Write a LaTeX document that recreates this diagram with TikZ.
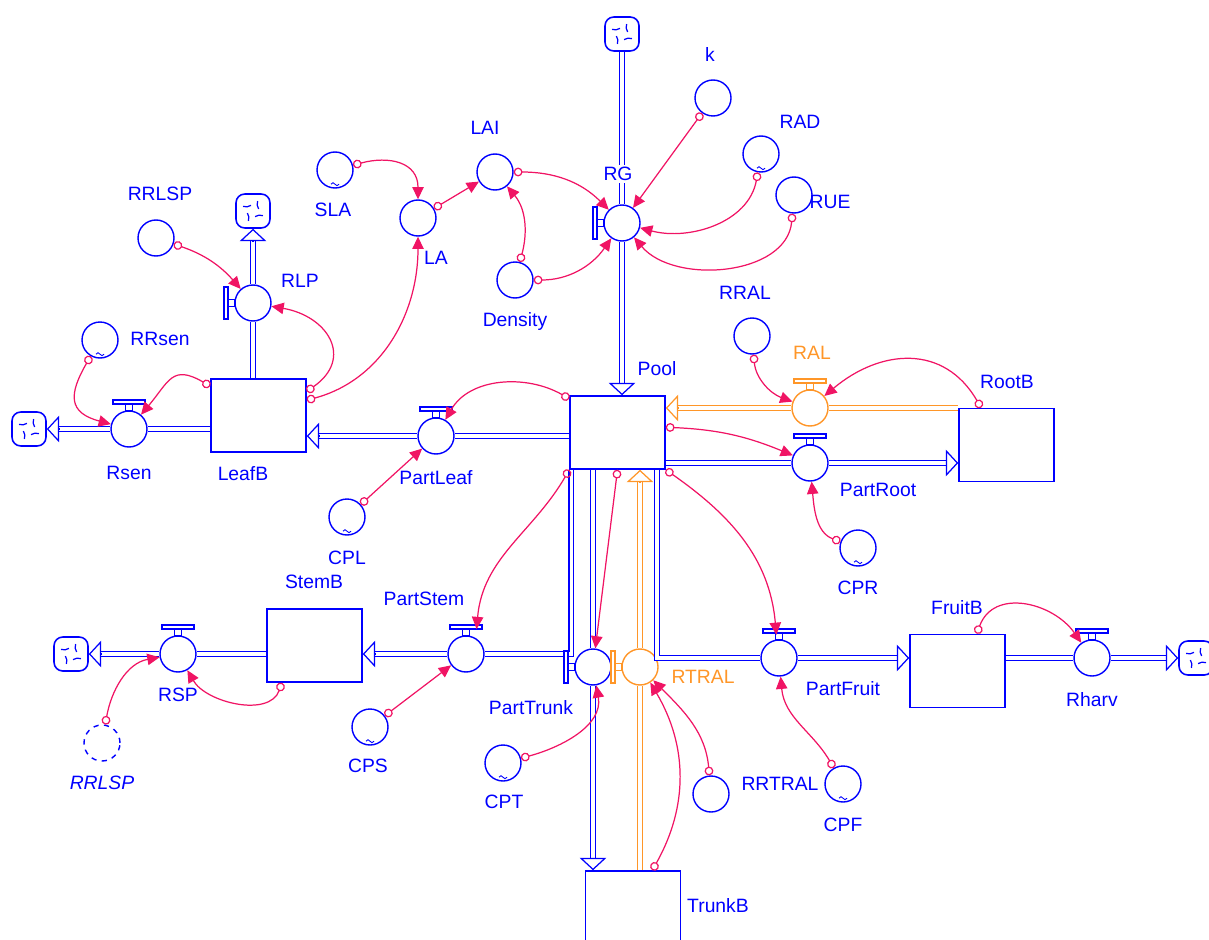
\documentclass[tikz,border=0pt]{standalone}
\usepackage{fontspec}
\setmainfont{Liberation Sans}
\usetikzlibrary{arrows.meta, calc}

\definecolor{vblue}{RGB}{0,0,255}
\definecolor{vpink}{RGB}{240,20,100}
\definecolor{vorange}{RGB}{255,150,40}

% valve handles (on top or on the left of the valve circle)
\newcommand{\topvalve}[2][vblue]{%
  \draw[#1, line width=0.6pt, fill=white] ($(#2)+(-16,25)$) rectangle ($(#2)+(16,29)$);
  \draw[#1, line width=0.6pt, fill=white] ($(#2)+(-3.5,18)$) rectangle ($(#2)+(3.5,25)$);}
\newcommand{\leftvalve}[2][vblue]{%
  \draw[#1, line width=0.6pt, fill=white] ($(#2)+(-29,-16)$) rectangle ($(#2)+(-25,16)$);
  \draw[#1, line width=0.6pt, fill=white] ($(#2)+(-25,-3.5)$) rectangle ($(#2)+(-18,3.5)$);}
% pipe with an open head at its end
\newcommand{\pipeto}[3][vblue]{%
  \draw[pipe=#1, shorten >=7pt] (#2) -- (#3);
  \draw[#1, line width=0.7pt, -{Triangle[open, length=7pt, width=15pt]}] ($(#3)!7pt!(#2)$) -- (#3);}
% marks inside a cloud
\newcommand{\cloudmarks}[1]{%
  \foreach \a/\b in {20/65, 110/155, 200/245, 290/335}
    \draw[vblue, line width=0.7pt] ($(#1)+(\a:6)$) to[bend left=25] ($(#1)+(\b:11)$);}
% little tilde of a lookup
\newcommand{\tildemark}[1]{%
  \draw[vblue, line width=0.5pt] ($(#1.south)+(-4,4.5)$) sin ++(2,1.5) cos ++(2,-1.5) sin ++(2,-1.5) cos ++(2,1.5);}

\begin{document}
\begin{tikzpicture}[
    x=0.02cm, y=0.02cm,
    stock/.style={draw=vblue, line width=0.9pt, minimum width=1.9cm, minimum height=1.46cm, inner sep=0},
    valve/.style={draw=vblue, fill=white, circle, line width=0.8pt, minimum size=0.72cm, inner sep=0},
    aux/.style={draw=vblue, circle, line width=0.8pt, minimum size=0.72cm, inner sep=0},
    cloudbox/.style={draw=vblue, line width=0.9pt, rounded corners=5pt, minimum size=0.68cm, inner sep=0},
    pipe/.style={draw=#1, double=white, double distance=2pt, line width=0.7pt},
    pipe/.default=vblue,
    link/.style={draw=vpink, line width=0.7pt, arrows={Circle[open, length=5pt, line width=0.7pt]-Triangle[length=7pt, width=6.5pt]}},
    lbl/.style={text=vblue, font=\fontsize{11}{13}\selectfont, inner sep=1pt}
]
\useasboundingbox (0,0) rectangle (1209,-939);

% stocks
\node[stock] (Pool) at (617.5,-432.5) {};
\node[stock] (LeafB) at (258.5,-415.5) {};
\node[stock] (RootB) at (1006.5,-445) {};
\node[stock] (StemB) at (314.5,-645.5) {};
\node[stock] (FruitB) at (957.5,-671) {};
\node[stock] (TrunkB) at (633,-907.5) {};

% clouds
\node[cloudbox] (cRG) at (622,-34) {};
\node[cloudbox] (cRLP) at (253,-211) {};
\node[cloudbox] (cRsen) at (29,-429) {};
\node[cloudbox] (cRSP) at (71,-654) {};
\node[cloudbox] (cRharv) at (1196,-658) {};

% valves
\node[valve] (RG) at (622,-223) {};
\node[valve] (RLP) at (253,-303) {};
\node[valve] (Rsen) at (129,-429) {};
\node[valve] (PartLeaf) at (436,-436) {};
\node[valve, draw=vorange] (RAL) at (810,-408) {};
\node[valve] (PartRoot) at (810,-463) {};
\node[valve] (PartStem) at (466,-654) {};
\node[valve] (RSP) at (178,-654) {};
\node[valve] (PartTrunk) at (593,-667) {};
\node[valve, draw=vorange] (RTRAL) at (640,-667) {};
\node[valve] (PartFruit) at (779,-658) {};
\node[valve] (Rharv) at (1092,-658) {};

% auxiliaries
\node[aux] (k) at (713,-98) {};
\node[aux] (RAD) at (761,-154) {};
\node[aux] (RUE) at (794,-195) {};
\node[aux] (RRAL) at (752,-336) {};
\node[aux] (SLA) at (335,-170) {};
\node[aux] (LA) at (418,-218) {};
\node[aux] (LAI) at (495,-172) {};
\node[aux] (Density) at (515,-280) {};
\node[aux] (RRLSP) at (156,-238) {};
\node[aux] (RRsen) at (100,-340) {};
\node[aux] (CPL) at (347,-517) {};
\node[aux] (CPR) at (858,-548) {};
\node[aux] (CPS) at (370,-727) {};
\node[aux] (CPT) at (503,-763) {};
\node[aux] (RRTRAL) at (711,-794) {};
\node[aux] (CPF) at (843,-784) {};
\node[aux, dashed] (RRLSPs) at (102,-743) {};

% flows
\draw[pipe] (cRG.south) -- (RG.north);
\pipeto{RG.south}{Pool.north -| RG}
\draw[pipe] (LeafB.north -| RLP) -- (RLP.south);
\pipeto{RLP.north}{cRLP.south}
\draw[pipe] (LeafB.west |- Rsen) -- (Rsen.east);
\pipeto{Rsen.west}{cRsen.east}
\draw[pipe] (Pool.west |- PartLeaf) -- (PartLeaf.east);
\pipeto{PartLeaf.west}{LeafB.east |- PartLeaf}
\draw[pipe=vorange] (RootB.west |- RAL) -- (RAL.east);
\pipeto[vorange]{RAL.west}{Pool.east |- RAL}
\draw[pipe] (Pool.east |- PartRoot) -- (PartRoot.west);
\pipeto{PartRoot.east}{RootB.west |- PartRoot}
\draw[pipe] ([xshift=1.2pt]Pool.south west) |- (PartStem.east);
\pipeto{PartStem.west}{StemB.east |- PartStem}
\draw[pipe] (StemB.west |- RSP) -- (RSP.east);
\pipeto{RSP.west}{cRSP.east}
\draw[pipe] (Pool.south -| PartTrunk) -- (PartTrunk.north);
\pipeto{PartTrunk.south}{TrunkB.north -| PartTrunk}
\draw[pipe=vorange] (TrunkB.north -| RTRAL) -- (RTRAL.south);
\pipeto[vorange]{RTRAL.north}{Pool.south -| RTRAL}
\draw[pipe] ([xshift=-5pt]Pool.south east) |- (PartFruit.west);
\pipeto{PartFruit.east}{FruitB.west |- PartFruit}
\draw[pipe] (FruitB.east |- Rharv) -- (Rharv.west);
\pipeto{Rharv.east}{cRharv.west}

\leftvalve{RG} \leftvalve{RLP} \topvalve{Rsen} \topvalve{PartLeaf}
\topvalve[vorange]{RAL} \topvalve{PartRoot} \topvalve{PartStem} \topvalve{RSP}
\leftvalve{PartTrunk} \leftvalve[vorange]{RTRAL} \topvalve{PartFruit} \topvalve{Rharv}

\cloudmarks{cRG} \cloudmarks{cRLP} \cloudmarks{cRsen} \cloudmarks{cRSP} \cloudmarks{cRharv}

\tildemark{SLA} \tildemark{RRsen} \tildemark{CPL} \tildemark{CPR}
\tildemark{CPS} \tildemark{CPT} \tildemark{CPF} \tildemark{RAD}

% links
\draw[link] (SLA) to[out=15,in=90,looseness=1.3] (LA);
\draw[link] (LA) -- (LAI);
\draw[link] (LAI) to[out=0,in=135] (RG);
\draw[link] (Density) to[out=75,in=-50] (LAI);
\draw[link] (Density) to[out=0,in=-125] (RG);
\draw[link] (k) -- (RG);
\draw[link] (RAD) to[out=-100,in=-15] (RG);
\draw[link] (RUE) to[out=-95,in=-50] (RG);
\draw[link] (RRLSP) to[bend left=15] (RLP);
\draw[link] ([yshift=-7.5pt]LeafB.north east) to[out=35,in=-10,looseness=1.6] (RLP);
\draw[link] ([yshift=-12.5pt]LeafB.north east) to[out=15,in=-90] (LA);
\draw[link] (RRsen) to[out=-120,in=165,looseness=1.6] (Rsen);
\draw[link] ([yshift=-4.5pt]LeafB.north west) to[out=150,in=50,looseness=1.5] (Rsen);
\draw[link] ([yshift=-2pt]Pool.north west) to[out=150,in=60] (PartLeaf);
\draw[link] (CPL) -- (PartLeaf);
\draw[link] ([yshift=3pt]Pool.east) to[bend left=10] (PartRoot);
\draw[link] (CPR) to[out=160,in=-85] (PartRoot);
\draw[link] (RRAL) to[out=-85,in=160] (RAL);
\draw[link] ([xshift=13pt]RootB.north west) to[out=120,in=40,looseness=1.2] (RAL);
\draw[link] (Pool.south west) to[out=-120,in=85] ([xshift=6pt,yshift=3.5pt]PartStem.north);
\draw[link] (Pool.south) -- (PartTrunk);
\draw[link] (Pool.south east) to[out=-35,in=95] ([xshift=-1.5pt,yshift=2.5pt]PartFruit.north);
\draw[link] (CPS) -- (PartStem);
\draw[link] (CPT) to[out=15,in=-80] (PartTrunk);
\draw[link] ([xshift=11pt]TrunkB.north) to[bend right=30] (RTRAL);
\draw[link] (RRTRAL) to[out=95,in=-45] (RTRAL);
\draw[link] (CPF) to[out=120,in=-85] (PartFruit);
\draw[link] ([xshift=11pt]FruitB.north) to[out=70,in=125,looseness=1.2] (Rharv);
\draw[link] ([xshift=9pt]StemB.south west) to[out=-110,in=-60] (RSP);
\draw[link] (RRLSPs) to[out=80,in=-170] (RSP);

% labels
\node[lbl] (tk) at (710,-55) {k};
\node[lbl] (tRAD) at (800,-122) {RAD};
\node[lbl] (tRUE) at (830,-202) {RUE};
\node[lbl] (tRRAL) at (745,-293) {RRAL};
\node[lbl, fill=white] (tRG) at (618,-174) {RG};
\node[lbl] (tSLA) at (333,-210) {SLA};
\node[lbl] (tLA) at (436,-258) {LA};
\node[lbl] (tLAI) at (485,-128) {LAI};
\node[lbl] (tDensity) at (515,-322) {Density};
\node[lbl] (tRRLSP) at (160,-194) {RRLSP};
\node[lbl] (tRLP) at (300,-281) {RLP};
\node[lbl] (tRRsen) at (160,-339) {RRsen};
\node[lbl] (tRsen) at (129,-473) {Rsen};
\node[lbl] (tLeafB) at (243,-474) {LeafB};
\node[lbl] (tPartLeaf) at (436,-478) {PartLeaf};
\node[lbl] (tCPL) at (347,-558) {CPL};
\node[lbl] (tPool) at (657,-369) {Pool};
\node[lbl, text=vorange] (tRAL) at (812,-353) {RAL};
\node[lbl] (tRootB) at (1007,-382) {RootB};
\node[lbl] (tPartRoot) at (878,-490) {PartRoot};
\node[lbl] (tCPR) at (858,-588) {CPR};
\node[lbl] (tStemB) at (314,-582) {StemB};
\node[lbl] (tPartStem) at (424,-599) {PartStem};
\node[lbl] (tRSP) at (178,-695) {RSP};
\node[lbl, font=\fontsize{11}{13}\selectfont\itshape] (tRRLSPs) at (102,-783) {RRLSP};
\node[lbl] (tCPS) at (368,-766) {CPS};
\node[lbl] (tPartTrunk) at (531,-708) {PartTrunk};
\node[lbl] (tCPT) at (504,-802) {CPT};
\node[lbl, text=vorange] (tRTRAL) at (703,-677) {RTRAL};
\node[lbl] (tRRTRAL) at (780,-784) {RRTRAL};
\node[lbl] (tCPF) at (843,-825) {CPF};
\node[lbl] (tPartFruit) at (843,-689) {PartFruit};
\node[lbl] (tFruitB) at (957,-608) {FruitB};
\node[lbl] (tRharv) at (1092,-700) {Rharv};
\node[lbl] (tTrunkB) at (718,-906) {TrunkB};

\end{tikzpicture}
\end{document}
